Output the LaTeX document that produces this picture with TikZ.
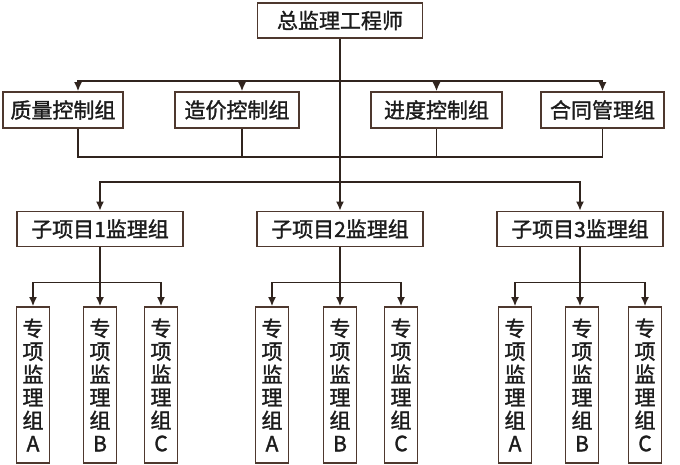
\documentclass[tikz,border=0pt]{standalone}
\usepackage{fontspec}
\setmainfont{Noto Sans CJK SC}[FakeBold=1.5]
\usetikzlibrary{positioning,arrows.meta}
\definecolor{boxline}{RGB}{78,56,46}
\definecolor{wire}{RGB}{48,36,30}
\definecolor{ink}{RGB}{28,28,28}
\begin{document}
\begin{tikzpicture}[x=1pt,y=-1pt,>={Latex[length=9pt,width=8pt]},
	every node/.style={shape=rectangle,draw=boxline,line width=1.8pt,text=ink,inner sep=0pt,font=\fontsize{21}{23}\selectfont},
	box/.style={minimum height=35pt},
	spec/.style={minimum width=33pt,minimum height=156pt,align=center},
	link/.style={draw=wire,line width=1.3pt}]
		\useasboundingbox (0,0) rectangle (680,465);
		% create the nodes
		\node (chief) [box,minimum width=165pt] at (340,20.5) {总监理工程师};
		\node (qual) [box,minimum width=120pt,minimum height=36pt] at (63,110) {质量控制组};
		\node (cost) [box,minimum width=124pt,minimum height=36pt] at (237,110) {造价控制组};
		\node (prog) [box,minimum width=131pt,minimum height=36pt] at (436.5,110) {进度控制组};
		\node (cont) [box,minimum width=123pt,minimum height=36pt] at (602.5,110) {合同管理组};
		\node (sub1) [box,minimum width=166pt] at (100,229) {子项目1监理组};
		\node (sub2) [box,minimum width=166pt] at (340,229) {子项目2监理组};
		\node (sub3) [box,minimum width=166pt] at (580,229) {子项目3监理组};
		\foreach \g/\xa/\xb/\xc in {1/33/100/161,2/272/340/401,3/515/582/645}{
			\node (sp\g a) [spec] at (\xa,385) {专\\项\\监\\理\\组\\A};
			\node (sp\g b) [spec] at (\xb,385) {专\\项\\监\\理\\组\\B};
			\node (sp\g c) [spec] at (\xc,385) {专\\项\\监\\理\\组\\C};
		}

		% connect the nodes
		\draw[link,->] (chief) -- (sub2);
		\draw[link,->] (chief.south) ++(0,42) -| ([xshift=15pt]qual.north);
		\draw[link,->] (chief.south) ++(0,42) -| ([xshift=5pt]cost.north);
		\draw[link,->] (chief.south) ++(0,42) -| (prog.north);
		\draw[link,->] (chief.south) ++(0,42) -| (cont.north);
		\draw[link] ([xshift=15pt]qual.south) -- ++(0,28) -| (cont.south);
		\draw[link] ([xshift=5pt]cost.south) -- ++(0,28);
		\draw[link] (prog.south) -- ++(0,28);
		\draw[link,->] (sub2.north) ++(0,-28.5) -| (sub1.north);
		\draw[link,->] (sub2.north) ++(0,-28.5) -| (sub3.north);
		\foreach \g in {1,2,3}{
			\draw[link,->] (sub\g.south) -- (sub\g.south |- sp\g b.north);
			\draw[link,->] (sub\g.south) ++(0,35) -| (sp\g a.north);
			\draw[link,->] (sub\g.south) ++(0,35) -| (sp\g c.north);
		}
	\end{tikzpicture}
\end{document}
